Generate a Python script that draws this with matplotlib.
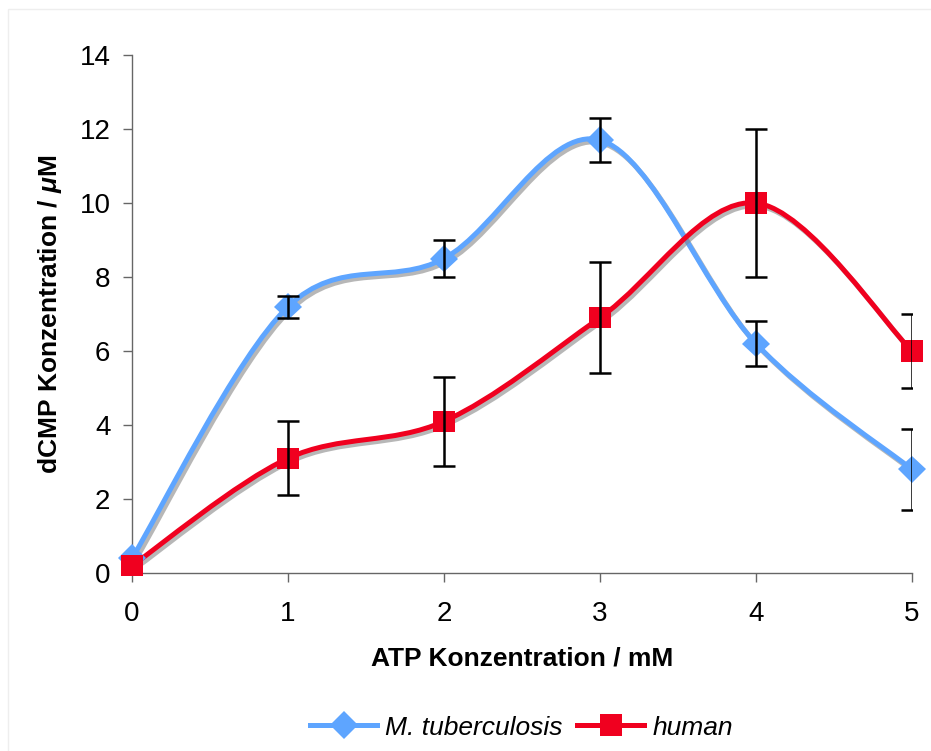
import matplotlib
matplotlib.use('Agg')
from matplotlib import pyplot as plt
from matplotlib.path import Path
from matplotlib.patches import PathPatch, Rectangle
from matplotlib.lines import Line2D
import matplotlib.patheffects as pe

plt.rcParams['font.family'] = ['Liberation Sans', 'DejaVu Sans']
plt.rcParams['mathtext.fontset'] = 'custom'
plt.rcParams['mathtext.it'] = 'Liberation Sans:bold:italic'
plt.rcParams['mathtext.rm'] = 'Liberation Sans:bold'

atp_mM = [0, 1, 2, 3, 4, 5]
tb_values = [0.4, 7.2, 8.5, 11.7, 6.2, 2.8]
tb_err = [0.0, 0.3, 0.5, 0.6, 0.6, 1.1]
human_values = [0.2, 3.1, 4.1, 6.9, 10.0, 6.0]
human_err = [0.0, 1.0, 1.2, 1.5, 2.0, 1.0]

BLUE = '#5EA5FF'
RED = '#F0001F'

shadow = [pe.SimpleLineShadow(offset=(1.8, -2.2), shadow_color='#888888', alpha=0.6), pe.Normal()]


def smooth_path(xs, ys):
    # Excel-like smoothed line: cubic bezier with neighbour tangents / 6
    pts = list(zip(xs, ys))
    verts = [pts[0]]
    codes = [Path.MOVETO]
    n = len(pts)
    for i in range(n - 1):
        p0 = pts[max(i - 1, 0)]
        p1 = pts[i]
        p2 = pts[i + 1]
        p3 = pts[min(i + 2, n - 1)]
        c1 = (p1[0] + (p2[0] - p0[0]) / 6, p1[1] + (p2[1] - p0[1]) / 6)
        c2 = (p2[0] - (p3[0] - p1[0]) / 6, p2[1] - (p3[1] - p1[1]) / 6)
        verts += [c1, c2, p2]
        codes += [Path.CURVE4] * 3
    return Path(verts, codes)


fig = plt.figure(figsize=(9.31, 7.51), dpi=100)
ax = fig.add_axes([0.1418, 0.237, 0.8378, 0.6897])

# faint outer chart frame
fig.patches.append(Rectangle((8 / 931, -0.1), 1.2, 1 - 9 / 751 + 0.1, transform=fig.transFigure,
                             fill=False, edgecolor='#EEEEEE', linewidth=1))

for vals, err, color, marker, ms in [(tb_values, tb_err, BLUE, 'D', 14),
                                     (human_values, human_err, RED, 's', 15.5)]:
    patch = PathPatch(smooth_path(atp_mM, vals), facecolor='none', edgecolor=color,
                      linewidth=3.6, capstyle='round', zorder=2)
    patch.set_path_effects(shadow)
    ax.add_patch(patch)
    ax.plot(atp_mM, vals, linestyle='none', marker=marker, markersize=ms, color=color,
            markeredgewidth=0, zorder=3, path_effects=shadow, clip_on=False)
    err_x = [x for x, e in zip(atp_mM, err) if e > 0]
    err_y = [v for v, e in zip(vals, err) if e > 0]
    err_e = [e for e in err if e > 0]
    ax.errorbar(err_x, err_y, yerr=err_e, fmt='none', ecolor='black', elinewidth=1.8,
                capsize=8, capthick=1.8, zorder=4)

ax.set_xlim(0, 5)
ax.set_ylim(0, 14)
ax.set_xticks(range(0, 6))
ax.set_yticks(range(0, 15, 2))
ax.spines['top'].set_visible(False)
ax.spines['right'].set_visible(False)
for s in ['left', 'bottom']:
    ax.spines[s].set_color('#666666')
    ax.spines[s].set_linewidth(1)
ax.tick_params(direction='out', length=6.5, width=1, color='#666666', labelsize=20)
ax.tick_params(axis='y', pad=9)
ax.tick_params(axis='x', pad=14)

ax.set_xlabel('ATP Konzentration / mM', fontsize=19, fontweight='bold', labelpad=14)
ax.set_ylabel('dCMP Konzentration / $\\mathit{\\mu}$M', fontsize=19, fontweight='bold', labelpad=11)

handles = [Line2D([], [], color=BLUE, linewidth=3.6, marker='D', markersize=14, markeredgewidth=0),
           Line2D([], [], color=RED, linewidth=3.6, marker='s', markersize=15.5, markeredgewidth=0)]
fig.legend(handles, ['M. tuberculosis', 'human'], loc='center', bbox_to_anchor=(0.56, 0.031),
           ncol=2, frameon=False, prop={'size': 19, 'style': 'italic'}, handlelength=2.55,
           columnspacing=0.55, handletextpad=0.3)

fig.savefig('out.png', dpi=100)
